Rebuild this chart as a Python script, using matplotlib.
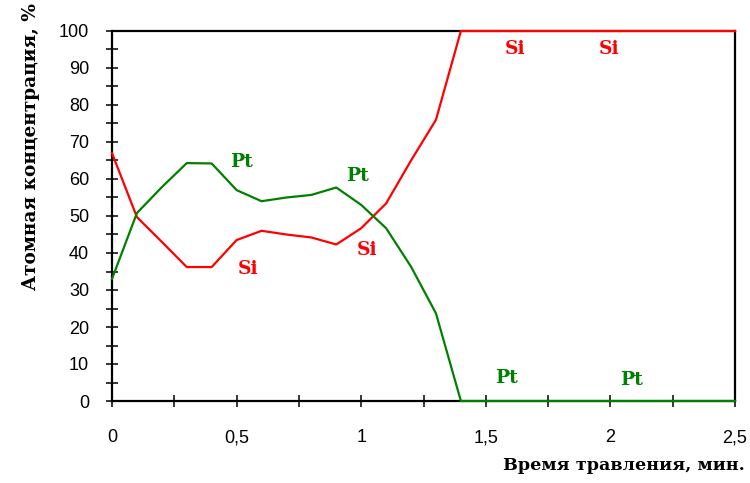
import matplotlib
matplotlib.use("Agg")
import matplotlib.pyplot as plt
from matplotlib.ticker import MultipleLocator, FuncFormatter

# Data (time in min, atomic concentration in %)
time = [0.0, 0.1, 0.2, 0.3, 0.4, 0.5, 0.6, 0.7, 0.8, 0.9, 1.0, 1.1, 1.2, 1.3, 1.4, 1.5, 2.0, 2.5]
si = [67.0, 49.7, 43.0, 36.2, 36.2, 43.5, 46.0, 45.0, 44.2, 42.3, 46.7, 53.4, 65.0, 76.0, 100.0, 100.0, 100.0, 100.0]
pt = [33.0, 50.8, 57.8, 64.3, 64.2, 57.0, 54.0, 55.0, 55.7, 57.7, 53.0, 46.7, 36.3, 23.7, 0.0, 0.0, 0.0, 0.0]

labels_pt = [(0.518, 64.6), (0.985, 60.7), (1.585, 6.1), (2.083, 5.7)]
labels_si = [(0.544, 35.7), (1.025, 40.8), (1.617, 95.1), (1.994, 95.1)]

RED = "#ff0000"
GREEN = "#008000"

fig = plt.figure(figsize=(7.5, 4.83), dpi=100)
ax = fig.add_axes([112/750, 1-401/483, (735-112)/750, (401-31)/483])

ax.plot(time, si, color=RED, lw=1.6, clip_on=False, zorder=3)
ax.plot(time, pt, color=GREEN, lw=1.6, clip_on=False, zorder=3)

lab_font = dict(family="DejaVu Serif", weight="bold", fontsize=13.5)
for x, y in labels_pt:
    ax.text(x, y, "Pt", color=GREEN, ha="center", va="center", **lab_font)
for x, y in labels_si:
    ax.text(x, y, "Si", color=RED, ha="center", va="center", **lab_font)

ax.set_xlim(0, 2.5)
ax.set_ylim(0, 100)
ax.xaxis.set_major_locator(MultipleLocator(0.5))
ax.xaxis.set_minor_locator(MultipleLocator(0.25))
ax.yaxis.set_major_locator(MultipleLocator(10))
ax.yaxis.set_minor_locator(MultipleLocator(5))

def fmt(v, pos):
    return ("%g" % v).replace(".", ",")
ax.xaxis.set_major_formatter(FuncFormatter(fmt))

for s in ax.spines.values():
    s.set_color("black")
    s.set_linewidth(1.6)

ax.tick_params(axis="both", which="both", direction="inout", length=9, width=1.1, color="black")
ax.tick_params(axis="x", which="major", pad=16)
ax.tick_params(axis="y", which="major", pad=12)
for lbl in ax.get_xticklabels() + ax.get_yticklabels():
    lbl.set_family("Liberation Sans")
    lbl.set_fontsize(13)

ax.set_ylabel("Атомная концентрация, %", family="DejaVu Serif", weight="bold", fontsize=13.3)
ax.yaxis.set_label_coords(-0.115, 0.688)
fig.text(745/750, 1-465/483, "Время травления, мин.", family="DejaVu Serif",
         weight="bold", fontsize=12.6, ha="right", va="center")

fig.savefig("out.png", dpi=100)
